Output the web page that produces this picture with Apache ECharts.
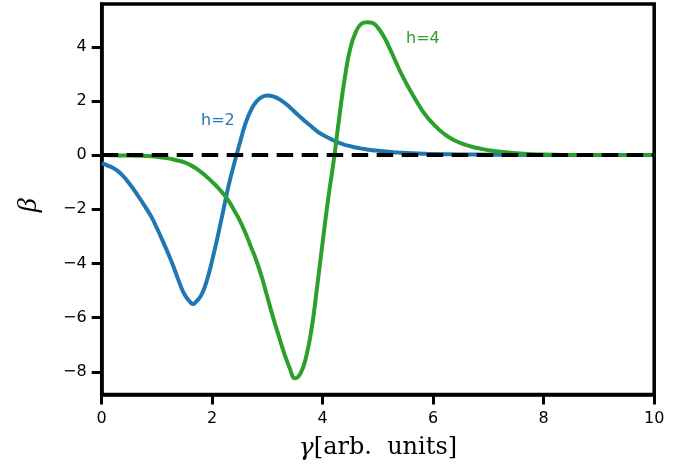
<!DOCTYPE html>
<html>
<head>
<meta charset="utf-8">
<script src="https://cdn.jsdelivr.net/npm/echarts@6/dist/echarts.min.js"></script>
<style>
  html, body { margin: 0; padding: 0; background: #fff; }
  #main { width: 688px; height: 467px; }
</style>
</head>
<body>
<div id="main"></div>
<script>
// values
var gammaH2 = [
  0, 0.1, 0.2, 0.3, 0.4, 0.5, 0.6, 0.7, 0.8, 0.9,
  1, 1.1, 1.2, 1.3, 1.4, 1.5, 1.6, 1.65, 1.7, 1.8, 1.9,
  2, 2.1, 2.2, 2.3, 2.4, 2.5, 2.6, 2.7, 2.8, 2.9,
  3, 3.1, 3.2, 3.3, 3.4, 3.5, 3.6, 3.7, 3.8, 3.9,
  4, 4.1, 4.2, 4.3, 4.4, 4.5, 4.6, 4.7, 4.8, 4.9,
  5, 5.1, 5.2, 5.3, 5.4, 5.5, 5.6, 5.7, 5.8, 5.9,
  6, 6.5, 7, 7.5, 8, 8.5, 9, 9.5, 10
];
var betaH2 = [
  -0.30, -0.38, -0.47, -0.60, -0.80, -1.05, -1.33, -1.63, -1.95, -2.28,
  -2.70, -3.15, -3.62, -4.12, -4.68, -5.15, -5.42, -5.50, -5.43, -5.18, -4.65,
  -3.88, -3.00, -2.05, -1.10, -0.30, 0.45, 1.15, 1.65, 1.98, 2.15,
  2.20, 2.17, 2.08, 1.95, 1.78, 1.58, 1.40, 1.22, 1.05, 0.88,
  0.75, 0.64, 0.54, 0.45, 0.38, 0.33, 0.28, 0.24, 0.21, 0.18,
  0.16, 0.14, 0.12, 0.10, 0.09, 0.08, 0.07, 0.06, 0.05, 0.045,
  0.04, 0.025, 0.015, 0.01, 0.005, 0, 0, 0, 0
];

var gammaH4 = [
  0, 0.1, 0.2, 0.3, 0.4, 0.5, 0.6, 0.7, 0.8, 0.9,
  1, 1.1, 1.2, 1.3, 1.4, 1.5, 1.6, 1.7, 1.8, 1.9,
  2, 2.1, 2.2, 2.3, 2.4, 2.5, 2.6, 2.7, 2.8, 2.9,
  3, 3.1, 3.2, 3.3, 3.4, 3.5, 3.6, 3.7, 3.8, 3.9,
  4, 4.1, 4.2, 4.3, 4.4, 4.5, 4.6, 4.7, 4.8, 4.9,
  5, 5.1, 5.2, 5.3, 5.4, 5.5, 5.6, 5.7, 5.8, 5.9,
  6, 6.1, 6.2, 6.3, 6.4, 6.5, 6.6, 6.7, 6.8, 6.9,
  7, 7.5, 8, 8.5, 9, 9.5, 10
];
var betaH4 = [
  0, 0, -0.005, -0.01, -0.01, -0.015, -0.02, -0.025, -0.03, -0.04,
  -0.06, -0.09, -0.12, -0.16, -0.21, -0.27, -0.36, -0.48, -0.63, -0.80,
  -0.99, -1.19, -1.43, -1.70, -2.05, -2.42, -2.87, -3.38, -3.90, -4.52,
  -5.25, -5.98, -6.65, -7.30, -7.85, -8.24, -8.05, -7.45, -6.40, -4.85,
  -3.20, -1.60, -0.20, 1.40, 2.85, 3.95, 4.55, 4.85, 4.91, 4.88,
  4.70, 4.40, 4.00, 3.55, 3.10, 2.70, 2.33, 1.98, 1.65, 1.38,
  1.15, 0.95, 0.78, 0.64, 0.53, 0.44, 0.37, 0.31, 0.26, 0.22,
  0.18, 0.07, 0.02, 0.005, 0, 0, 0
];

var zeroLine = [[0, 0], [10, 0]];
var yTicks = [-8, -6, -4, -2, 0, 2, 4];

function pairs(xs, ys) {
  return xs.map(function (x, i) { return [x, ys[i]]; });
}

var chart = echarts.init(document.getElementById('main'));

var option = {
  animation: false,
  backgroundColor: '#fff',
  grid: {
    left: 101.7,
    right: 33.8,
    top: 4,
    bottom: 72.5,
    show: true,
    borderColor: '#000',
    borderWidth: 3.5
  },
  xAxis: {
    type: 'value',
    min: 0,
    max: 10,
    interval: 2,
    splitLine: { show: false },
    axisLine: { onZero: false, lineStyle: { color: '#000', width: 3.5 } },
    axisTick: { length: 10, lineStyle: { color: '#000', width: 3 } },
    axisLabel: { color: '#000', fontSize: 16, fontFamily: 'DejaVu Sans', margin: 16 },
    name: '{i|γ}[arb.  units]',
    nameLocation: 'middle',
    nameGap: 41,
    nameTextStyle: {
      color: '#000',
      fontSize: 24,
      fontFamily: 'DejaVu Serif',
      rich: { i: { fontSize: 25, fontStyle: 'italic', fontFamily: 'DejaVu Serif', color: '#000' } }
    }
  },
  yAxis: {
    type: 'value',
    min: -8.84,
    max: 5.58,
    splitLine: { show: false },
    axisLine: { onZero: false, lineStyle: { color: '#000', width: 3.5 } },
    axisTick: { length: 10, customValues: yTicks, lineStyle: { color: '#000', width: 3 } },
    axisLabel: {
      customValues: yTicks,
      color: '#000',
      fontSize: 16,
      fontFamily: 'DejaVu Sans',
      margin: 15,
      formatter: function (v) { return String(v).replace('-', '\u2212'); }
    },
    name: 'β',
    nameLocation: 'middle',
    nameGap: 59,
    nameRotate: 90,
    nameTextStyle: { color: '#000', fontSize: 28, fontStyle: 'italic', fontFamily: 'Liberation Serif', padding: [0, 12, 0, 0] }
  },
  series: [
    {
      type: 'line',
      data: pairs(gammaH2, betaH2),
      smooth: true,
      symbol: 'none',
      lineStyle: { color: '#1f77b4', width: 4 }
    },
    {
      type: 'line',
      data: pairs(gammaH4, betaH4),
      smooth: true,
      symbol: 'none',
      lineStyle: { color: '#2ca02c', width: 4 }
    },
    {
      type: 'line',
      data: zeroLine,
      symbol: 'none',
      lineStyle: { color: '#000', width: 4, type: [16.5, 8.5] }
    }
  ],
  graphic: [
    {
      type: 'text', left: 201, top: 113,
      style: { text: 'h=2', fill: '#1f77b4', fontSize: 16, fontFamily: 'DejaVu Sans' }
    },
    {
      type: 'text', left: 406, top: 31,
      style: { text: 'h=4', fill: '#2ca02c', fontSize: 16, fontFamily: 'DejaVu Sans' }
    }
  ]
};

chart.setOption(option);
</script>
</body>
</html>
